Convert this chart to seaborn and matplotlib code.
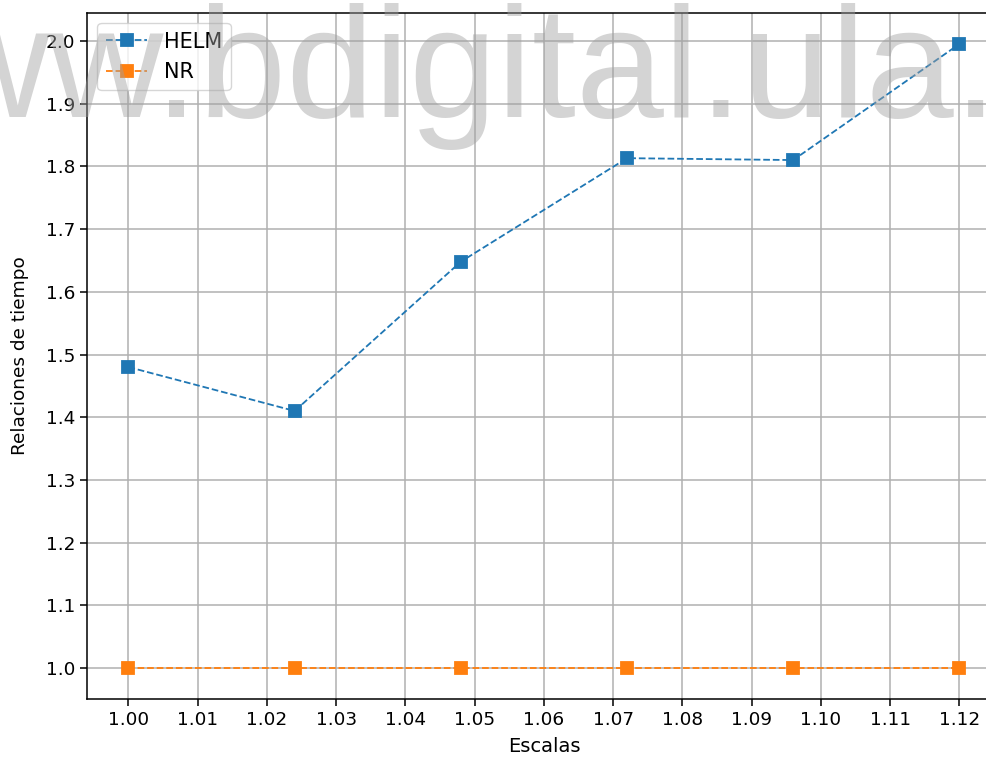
import matplotlib
matplotlib.use("Agg")
import matplotlib.pyplot as plt
from matplotlib.ticker import MultipleLocator, FormatStrFormatter
import seaborn as sns

# Scales tested and measured time ratios
escalas = [1.000, 1.024, 1.048, 1.072, 1.096, 1.120]
helm = [1.480, 1.410, 1.648, 1.813, 1.810, 1.995]
nr = [1.0, 1.0, 1.0, 1.0, 1.0, 1.0]

plt.rcParams["font.family"] = ["DejaVu Sans"]
plt.rcParams["font.size"] = 13.3

fig = plt.figure(figsize=(9.87, 7.57), dpi=100)
ax = fig.add_axes([0.0881, 0.0761, 0.926, 0.907])

for vals, name, col in [(helm, "HELM", "#1f77b4"), (nr, "NR", "#ff7f0e")]:
    sns.lineplot(x=escalas, y=vals, ax=ax, label=name, color=col,
                 linestyle="--", linewidth=1.3, marker="s", markersize=8,
                 markeredgecolor=col, markeredgewidth=1.3)

ax.xaxis.set_major_locator(MultipleLocator(0.01))
ax.yaxis.set_major_locator(MultipleLocator(0.1))
ax.xaxis.set_major_formatter(FormatStrFormatter("%.2f"))
ax.yaxis.set_major_formatter(FormatStrFormatter("%.1f"))
ax.set_xlim(0.994, 1.126)
ax.set_ylim(0.95025, 2.04475)
ax.grid(True, color="#b0b0b0", linewidth=1.1)
ax.tick_params(length=4.7, width=1.1)
for s in ax.spines.values():
    s.set_linewidth(1.1)
ax.set_xlabel("Escalas", fontsize=14, labelpad=6)
ax.set_ylabel("Relaciones de tiempo", labelpad=12)
ax.legend(loc="upper left", fontsize=15)

fig.text(-179 / 987, 1 - 117 / 757, "www.bdigital.ula.ve",
         family="Liberation Sans", fontsize=113.8, color="#a0a0a0", alpha=0.45,
         ha="left", va="baseline", zorder=10)

fig.savefig("out.png", dpi=100)
